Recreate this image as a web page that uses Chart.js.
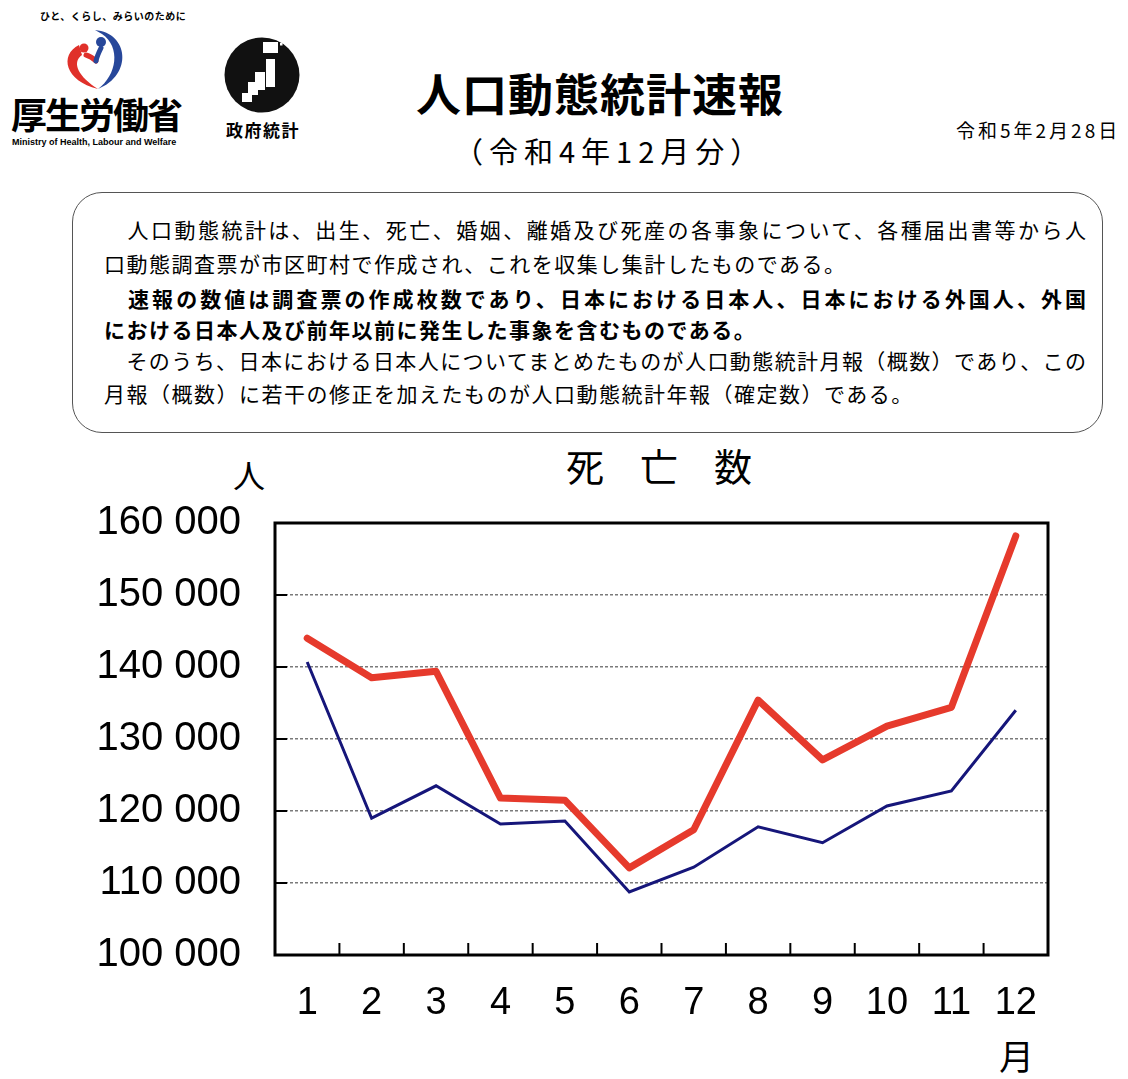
<!DOCTYPE html>
<html lang="ja">
<head>
<meta charset="utf-8">
<script src="https://cdn.jsdelivr.net/npm/chart.js@4.4.1/dist/chart.umd.min.js"></script>
<style>
  html, body { margin: 0; padding: 0; background: #fff; }
  body { width: 1128px; height: 1079px; position: relative; overflow: hidden;
         font-family: "Noto Sans CJK JP", "Noto Sans", sans-serif; color: #000; }
  .abs { position: absolute; white-space: nowrap; }
  .box { position: absolute; left: 72px; top: 192px; width: 1029px; height: 239px;
         border: 1.5px solid #555; border-radius: 30px; }
  .line { position: absolute; left: 104px; font-size: 21px; letter-spacing: 1.5px; line-height: 1; }
  .just { width: 982px; text-align: justify; text-align-last: justify; letter-spacing: 0; }
  .b { font-weight: bold; }
  #wrap { position: absolute; left: 0; top: 440px; width: 1128px; height: 639px; }
</style>
</head>
<body>

<!-- 厚生労働省ロゴ -->
<div class="abs" style="left:40px; top:8px; font-size:10px; font-weight:bold; letter-spacing:0.5px;">ひと、くらし、みらいのために</div>
<svg class="abs" style="left:55px; top:25px;" width="80" height="75" viewBox="0 0 80 75">
  <path d="M 24 20 C 4 30, 10 56, 43 64 C 24 52, 16 38, 27 30 Z" fill="#e0302a"/>
  <circle cx="29" cy="23" r="4.5" fill="#e0302a"/>
  <path d="M 31 30 C 35 31, 38 33, 41 36" stroke="#e0302a" stroke-width="5" fill="none" stroke-linecap="round"/>
  <path d="M 40 5 C 74 8, 78 50, 43 64 C 62 50, 66 22, 47 9 Z" fill="#27479a"/>
  <circle cx="46" cy="17" r="5" fill="#27479a"/>
  <path d="M 46 23 C 44 27, 42 31, 41 36" stroke="#27479a" stroke-width="5" fill="none" stroke-linecap="round"/>
</svg>
<div class="abs" style="left:11px; top:95px; font-size:36px; font-weight:bold; letter-spacing:-2px; line-height:1;">厚生労働省</div>
<div class="abs" style="left:12px; top:137px; font-size:9px; font-weight:bold; font-family:'Liberation Sans',sans-serif;">Ministry of Health, Labour and Welfare</div>

<!-- 政府統計ロゴ -->
<svg class="abs" style="left:215px; top:30px;" width="95" height="95" viewBox="0 0 95 95">
  <circle cx="47" cy="45" r="37.5" fill="#111"/>
  <rect x="48" y="12" width="15" height="11" fill="#fff"/>
  <rect x="65" y="13" width="2.5" height="2.5" fill="#fff"/>
  <rect x="51" y="29" width="9" height="28" fill="#fff"/>
  <rect x="40" y="42" width="10" height="18" fill="#fff"/>
  <rect x="33" y="52" width="10" height="13" fill="#fff"/>
  <rect x="27" y="63" width="10" height="9" fill="#fff"/>
</svg>
<div class="abs" style="left:226px; top:117px; font-size:17px; font-weight:bold; letter-spacing:1.5px;">政府統計</div>

<!-- 見出し -->
<div class="abs" style="left:416px; top:70px; font-size:45px; font-weight:bold; line-height:1; letter-spacing:1px;">人口動態統計速報</div>
<div class="abs" style="left:454px; top:136px; font-size:29px; line-height:1; letter-spacing:6px;">（令和4年12月分）</div>
<div class="abs" style="left:956px; top:120px; font-size:19px; line-height:1; letter-spacing:3px;">令和5年2月28日</div>

<div class="box"></div>
<div class="line just" style="top:219px;">　人口動態統計は、出生、死亡、婚姻、離婚及び死産の各事象について、各種届出書等から人</div>
<div class="line" style="top:253px;">口動態調査票が市区町村で作成され、これを収集し集計したものである。</div>
<div class="line just b" style="top:288px;">　速報の数値は調査票の作成枚数であり、日本における日本人、日本における外国人、外国</div>
<div class="line b" style="top:319px;">における日本人及び前年以前に発生した事象を含むものである。</div>
<div class="line just" style="top:350px;">　そのうち、日本における日本人についてまとめたものが人口動態統計月報（概数）であり、この</div>
<div class="line" style="top:383px;">月報（概数）に若干の修正を加えたものが人口動態統計年報（確定数）である。</div>

<!-- グラフ見出し -->
<div class="abs" style="left:566px; top:446px; font-size:38px; line-height:1; letter-spacing:36px;">死亡数</div>
<div class="abs" style="left:233px; top:458px; font-size:32px; line-height:1;">人</div>
<div class="abs" style="left:999px; top:1037px; font-size:35px; line-height:1;">月</div>

<div id="wrap"><canvas id="deaths"></canvas></div>

<script>
// 月
const months = ['1', '2', '3', '4', '5', '6', '7', '8', '9', '10', '11', '12'];
// 令和4年（赤）
const deathsR4 = [144000, 138500, 139400, 121800, 121500, 112100, 117400, 135400, 127100, 131800, 134400, 158200];
// 令和3年（紺）
const deathsR3 = [140700, 119000, 123500, 118200, 118600, 108750, 112200, 117800, 115600, 120700, 122800, 134000];
// 目盛
const yTicks = [100000, 110000, 120000, 130000, 140000, 150000, 160000];

const framePlugin = {
    id: 'frame',
    afterDatasetsDraw(chart) {
        const ctx = chart.ctx;
        const a = chart.chartArea;
        const x = chart.scales.x;
        const y = chart.scales.y;
        ctx.save();
        ctx.strokeStyle = '#000';
        ctx.lineWidth = 2;
        // 内向きの目盛
        yTicks.forEach(function(v) {
            const py = y.getPixelForValue(v);
            ctx.beginPath();
            ctx.moveTo(a.left, py);
            ctx.lineTo(a.left + 12, py);
            ctx.stroke();
        });
        for (let i = 0; i < months.length - 1; i++) {
            const px = (x.getPixelForValue(i) + x.getPixelForValue(i + 1)) / 2;
            ctx.beginPath();
            ctx.moveTo(px, a.bottom);
            ctx.lineTo(px, a.bottom - 12);
            ctx.stroke();
        }
        ctx.lineWidth = 3;
        ctx.strokeRect(a.left, a.top, a.right - a.left, a.bottom - a.top);
        ctx.restore();
    }
};

document.addEventListener("DOMContentLoaded", function() {
    const ctx = document.getElementById('deaths').getContext('2d');

    const deathsChart = new Chart(ctx, {
        type: 'line',
        data: {
            labels: months,
            datasets: [{
                label: '令和3年',
                data: deathsR3,
                borderColor: '#16167a',
                borderWidth: 3,
                pointRadius: 0,
                tension: 0
            }, {
                label: '令和4年',
                data: deathsR4,
                borderColor: '#e63a2c',
                borderWidth: 7,
                borderJoinStyle: 'round',
                borderCapStyle: 'round',
                pointRadius: 0,
                tension: 0
            }]
        },
        options: {
            responsive: true,
            maintainAspectRatio: false,
            animation: false,
            layout: {
                padding: { top: 83, right: 80, left: 0, bottom: 0 }
            },
            plugins: {
                legend: { display: false },
                tooltip: { enabled: false }
            },
            scales: {
                x: {
                    offset: true,
                    grid: { display: false, drawTicks: false },
                    border: { display: false },
                    ticks: {
                        padding: 26,
                        color: '#000',
                        font: { family: 'Liberation Sans', size: 38 }
                    },
                    afterFit: function(scale) { scale.height = 124; }
                },
                y: {
                    min: 100000,
                    max: 160000,
                    afterBuildTicks: function(scale) {
                        scale.ticks = yTicks.map(function(v) { return { value: v }; });
                    },
                    grid: {
                        color: '#7a7a7a',
                        lineWidth: 1.5,
                        drawTicks: false
                    },
                    border: { display: false, dash: [3, 2] },
                    ticks: {
                        padding: 34,
                        color: '#000',
                        font: { family: 'Liberation Sans', size: 40 },
                        callback: function(v) {
                            return String(v).replace(/\B(?=(\d{3})+(?!\d))/g, ' ');
                        }
                    },
                    afterFit: function(scale) { scale.width = 275; }
                }
            }
        },
        plugins: [framePlugin]
    });
});
</script>
</body>
</html>
